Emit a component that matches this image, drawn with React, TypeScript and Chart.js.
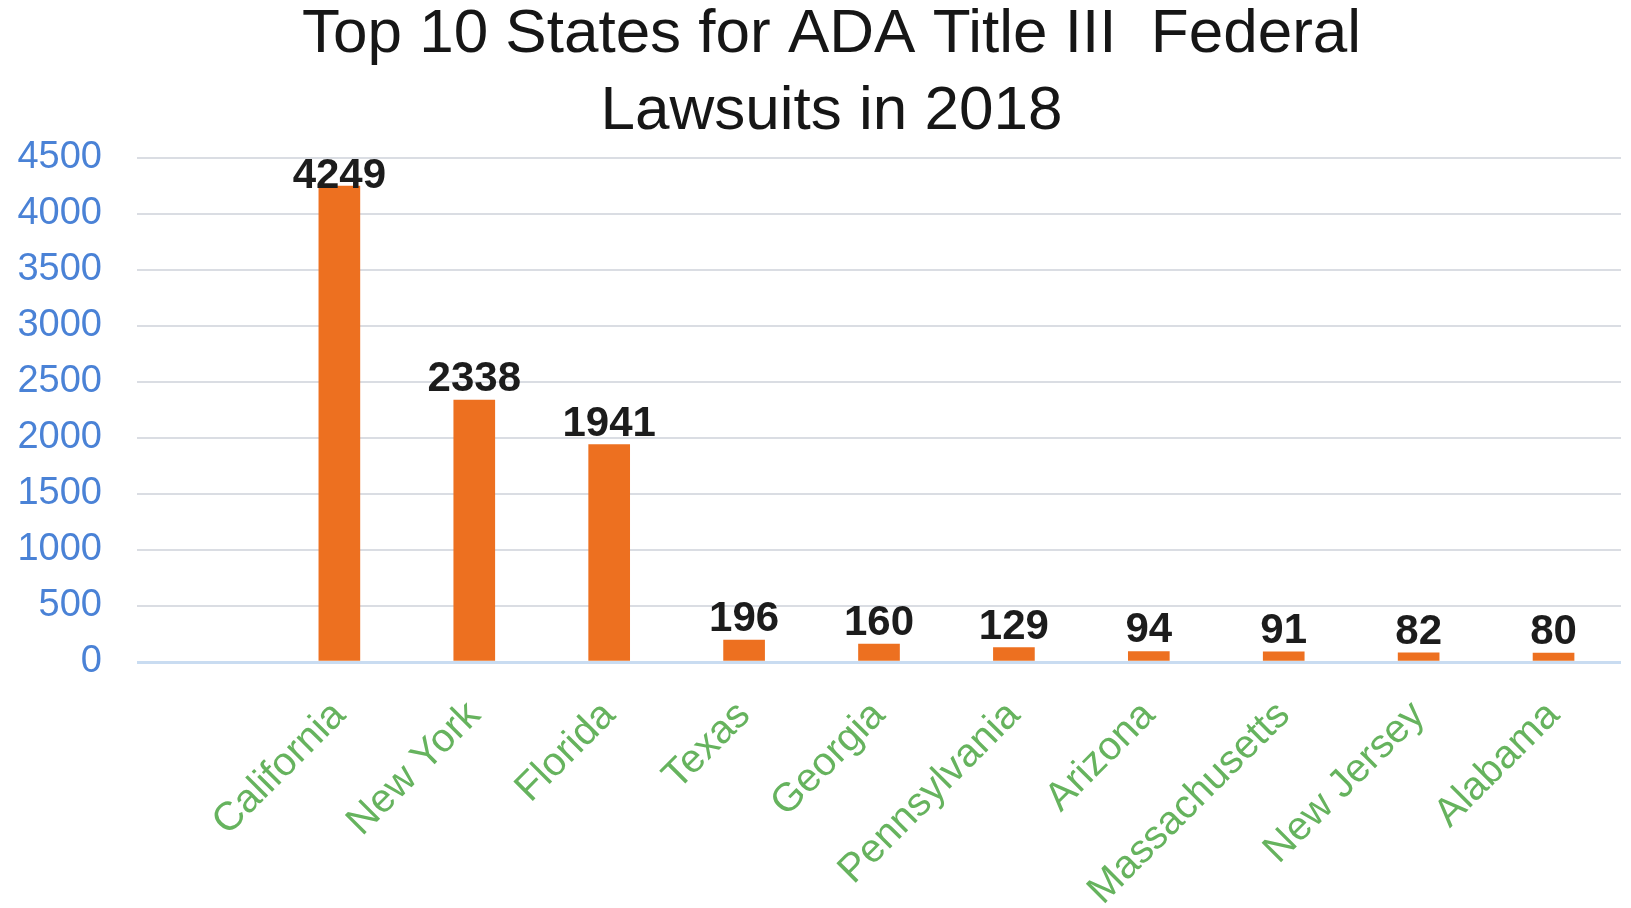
import React, { useEffect, useRef } from "react";
import { Chart, registerables } from "chart.js";

Chart.register(...registerables);

const titleLines = ["Top 10 States for ADA Title III  Federal", "Lawsuits in 2018"];
const states = [
  "California",
  "New York",
  "Florida",
  "Texas",
  "Georgia",
  "Pennsylvania",
  "Arizona",
  "Massachusetts",
  "New Jersey",
  "Alabama",
];
const lawsuits = [4249, 2338, 1941, 196, 160, 129, 94, 91, 82, 80];
const yTicks = [0, 500, 1000, 1500, 2000, 2500, 3000, 3500, 4000, 4500];

const FONT = "'Liberation Sans', Arial, Helvetica, sans-serif";
const FIRST_POS = 1.5;

const dataLabels = {
  id: "dataLabels",
  afterDatasetsDraw(chart: any) {
    const { ctx, chartArea } = chart;
    const meta = chart.getDatasetMeta(0);
    ctx.save();
    ctx.font = `bold 42px ${FONT}`;
    ctx.fillStyle = "#1c1c1c";
    ctx.textAlign = "center";
    ctx.textBaseline = "alphabetic";
    meta.data.forEach((bar: any, i: number) => {
      const cap = 30;
      let y = bar.y - 9;
      if (y - cap < chartArea.top) y = chartArea.top + cap;
      ctx.fillText(String(lawsuits[i]), bar.x, y);
    });
    ctx.restore();
  },
};

// let the y tick labels extend left of the axis box (used to center the title like the original)
const unclipYLabels = {
  id: "unclipYLabels",
  beforeDraw(chart: any) {
    const s = chart.scales.y;
    if (s) s._computeLabelArea = () => undefined;
  },
};

export default function App() {
  const ref = useRef<HTMLCanvasElement | null>(null);

  useEffect(() => {
    if (!ref.current) return;
    const chart = new Chart(ref.current, {
      type: "bar",
      data: {
        datasets: [
          {
            data: lawsuits.map((v, i) => ({ x: i + FIRST_POS, y: v })),
            backgroundColor: "#ED7020",
            borderWidth: 0,
            barThickness: 41,
          },
        ],
      },
      options: {
        animation: false,
        responsive: false,
        devicePixelRatio: 1,
        layout: { padding: { left: 42, right: 10, top: 0, bottom: 0 } },
        plugins: {
          legend: { display: false },
          tooltip: { enabled: false },
          title: {
            display: true,
            text: titleLines,
            color: "#161616",
            font: { family: FONT, size: 62, weight: "normal", lineHeight: 1.242 },
            padding: { top: -4, bottom: 8 },
          },
        },
        scales: {
          x: {
            type: "linear",
            offset: false,
            min: 0,
            max: states.length + 1,
            grid: { display: false, drawTicks: false },
            border: { display: false },
            afterBuildTicks: (scale: any) => {
              scale.ticks = states.map((_, i) => ({ value: i + FIRST_POS }));
            },
            afterFit: (scale: any) => {
              scale.height = 246;
            },
            ticks: {
              autoSkip: false,
              minRotation: 45,
              maxRotation: 45,
              padding: 30,
              color: "#66b35e",
              font: { family: FONT, size: 40 },
              callback: (value: any) => states[Math.round(Number(value) - FIRST_POS)] ?? "",
            },
          },
          y: {
            min: 0,
            max: 4500,
            afterBuildTicks: (scale: any) => {
              scale.ticks = yTicks.map((v) => ({ value: v }));
            },
            afterFit: (scale: any) => {
              scale.width = 95;
            },
            grid: {
              drawTicks: false,
              lineWidth: (c: any) => (c.tick && c.tick.value === 0 ? 3 : 2),
              color: (c: any) => (c.tick && c.tick.value === 0 ? "#c9dcf1" : "#dadde3"),
            },
            border: { display: false },
            ticks: {
              padding: 35,
              color: "#4a82d6",
              font: { family: FONT, size: 38 },
              callback: (value: any) => String(value),
            },
          },
        },
      },
      plugins: [dataLabels, unclipYLabels],
    } as any);
    return () => chart.destroy();
  }, []);

  return (
    <div style={{ position: "absolute", left: 0, top: 0, width: 1631, height: 908, background: "#fff", overflow: "hidden" }}>
      <canvas ref={ref} width={1631} height={908} style={{ display: "block" }} />
    </div>
  );
}
